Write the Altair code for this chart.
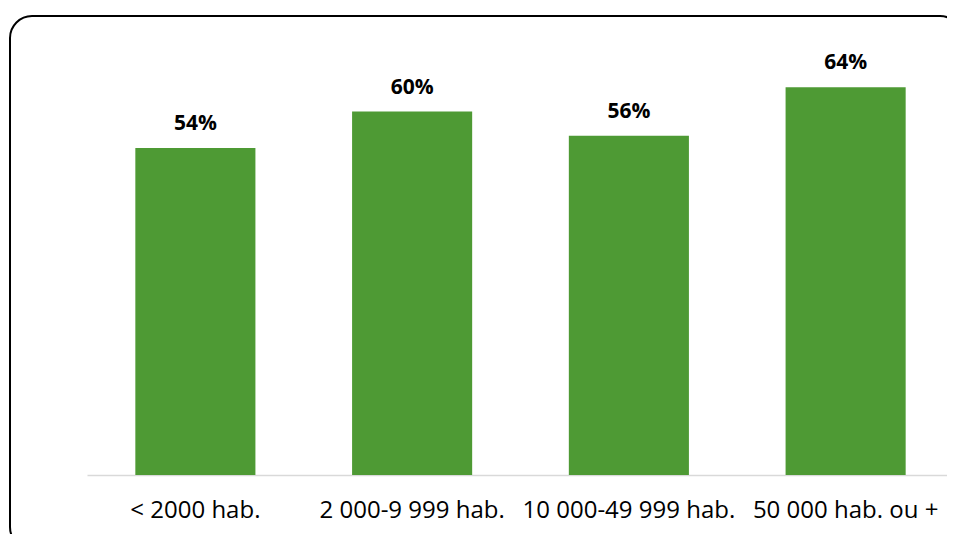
import altair as alt
import pandas as pd

categories = ["< 2000 hab.", "2 000-9 999 hab.", "10 000-49 999 hab.", "50 000 hab. ou +"]
values = [0.54, 0.60, 0.56, 0.64]

df = pd.DataFrame({"cat": categories, "val": values})

FONT = "Open Sans"
GREEN = "#4E9A34"

base = alt.Chart(df).encode(
    x=alt.X(
        "cat:N",
        sort=categories,
        title=None,
        scale=alt.Scale(paddingInner=0.446, paddingOuter=0.223, range=[0, 867]),
        axis=alt.Axis(
            labelAngle=0,
            labelFont=FONT,
            labelFontSize=24,
            labelColor="#000000",
            labelBaseline="alphabetic",
            labelPadding=42,
            labelLimit=0,
            ticks=False,
            tickSize=0,
            domainColor="#D9D9D9",
            domainWidth=1.5,
            grid=False,
        ),
    ),
    y=alt.Y(
        "val:Q",
        scale=alt.Scale(domain=[0, 0.70]),
        axis=None,
    ),
)

bars = base.mark_bar(color=GREEN)
labels = base.mark_text(
    font=FONT, fontSize=21, fontWeight="bold", color="#000000",
    baseline="alphabetic", dy=-18,
).encode(text=alt.Text("val:Q", format=".0%"))

frame = alt.Chart(pd.DataFrame({"a": [0]})).mark_rect(
    fill="transparent", stroke="#000000", strokeWidth=2, cornerRadius=22
).encode(
    x=alt.value(-77), x2=alt.value(875), y=alt.value(-35), y2=alt.value(498)
)

chart = alt.layer(frame, bars, labels).properties(
    width=860,
    height=424,
    autosize=alt.AutoSizeParams(type="none"),
    padding={"left": 79, "top": 43, "right": 0, "bottom": 59},
).configure_view(stroke=None)

chart.save("out.html", embed_options={"renderer": "svg", "actions": False})
